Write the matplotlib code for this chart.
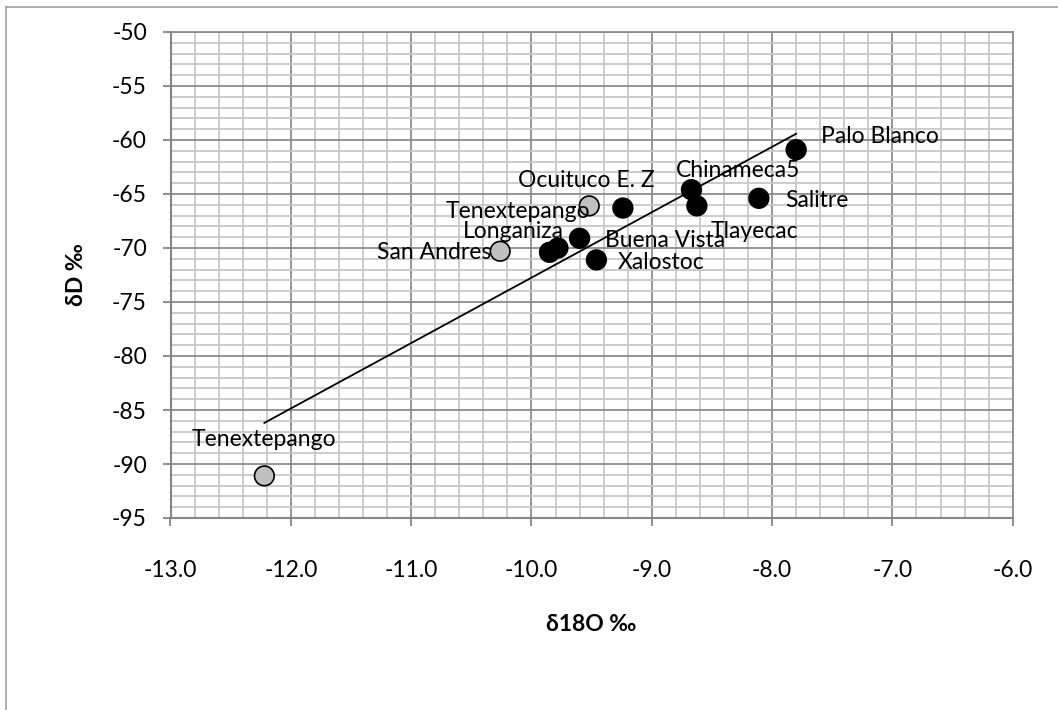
import numpy as np
import matplotlib.pyplot as plt
from matplotlib.lines import Line2D
from matplotlib.ticker import MultipleLocator, FormatStrFormatter

# -------------------- data --------------------
names = ["Palo Blanco", "Chinameca5", "Salitre", "Tlayecac", "Ocuituco E. Z",
         "Tenextepango", "Buena Vista", "Longaniza", "", "Xalostoc", "San Andres", "Tenextepango"]
d18o = [-7.80, -8.67, -8.11, -8.625, -9.24, -9.52, -9.60, -9.78, -9.85, -9.46, -10.26, -12.22]
dd = [-60.9, -64.6, -65.4, -66.1, -66.3, -66.1, -69.1, -70.0, -70.4, -71.1, -70.3, -91.1]
gray = [False, False, False, False, False, True, False, False, False, False, True, True]

# label offsets in pixels (dx, dy, ha)
offsets = [(25, 13, "left"), (47, 19, "center"), (26, -2, "left"), (58, -26, "center"),
           (-37, 28, "center"), (-71, -6, "center"), (25, -2, "left"), (-45, 17, "center"),
           (0, 0, "center"), (21, -3, "left"), (-66, -1, "center"), (0, 36, "center")]

plt.rcParams['font.family'] = ['Lato', 'DejaVu Sans']
plt.rcParams['axes.unicode_minus'] = False
FS = 16.5

fig = plt.figure(figsize=(10.58, 7.10), dpi=100)
ax = fig.add_axes([170.5 / 1058, 1 - 518 / 710, (1012.7 - 170.5) / 1058, 486 / 710])

# outer chart border (only top/left visible)
fig.add_artist(Line2D([6 / 1058, 6 / 1058], [0, 1 - 7 / 710], transform=fig.transFigure, color="#A0A0A0", lw=1.2))
fig.add_artist(Line2D([6 / 1058, 1], [1 - 7 / 710, 1 - 7 / 710], transform=fig.transFigure, color="#A0A0A0", lw=1.2))

ax.set_xlim(-13, -6)
ax.set_ylim(-95, -50)
ax.xaxis.set_major_locator(MultipleLocator(1))
ax.xaxis.set_minor_locator(MultipleLocator(0.2))
ax.yaxis.set_major_locator(MultipleLocator(5))
ax.yaxis.set_minor_locator(MultipleLocator(1))
ax.xaxis.set_major_formatter(FormatStrFormatter("%.1f"))

ax.grid(which="minor", color="#C8C8C8", lw=1.3)
ax.grid(which="major", color="#8C8C8C", lw=1.3)
ax.set_axisbelow(True)
for s in ["top", "right"]:
    ax.spines[s].set_color("#8C8C8C")
    ax.spines[s].set_linewidth(1.3)
for s in ["left", "bottom"]:
    ax.spines[s].set_color("#868686")
    ax.spines[s].set_linewidth(1.5)

ax.tick_params(which="major", direction="out", length=6, width=1.3, color="#868686", labelsize=FS)
ax.tick_params(which="minor", length=0)
ax.tick_params(axis="x", pad=24)
ax.tick_params(axis="y", pad=11)

# trend line over all points
coef = np.polyfit(d18o, dd, 1)
xs = np.array([min(d18o), max(d18o)])
ax.plot(xs, np.polyval(coef, xs), color="black", lw=1.3, zorder=3)

colors = ["#C0C0C0" if g else "black" for g in gray]
ax.scatter(d18o, dd, s=200, c=colors, edgecolors="black", linewidths=1.2, zorder=4)

for i, (x, y) in enumerate(zip(d18o, dd)):
    if not names[i]:
        continue
    dx, dy, ha = offsets[i]
    ax.annotate(names[i], (x, y), xytext=(dx, dy), textcoords="offset pixels",
                ha=ha, va="center", fontsize=FS, zorder=5)

ax.set_xlabel("δ18O ‰", fontsize=FS, fontweight="bold", labelpad=24)
ax.set_ylabel("δD ‰", fontsize=FS, fontweight="bold", labelpad=18)

fig.savefig("out.png", dpi=100)
